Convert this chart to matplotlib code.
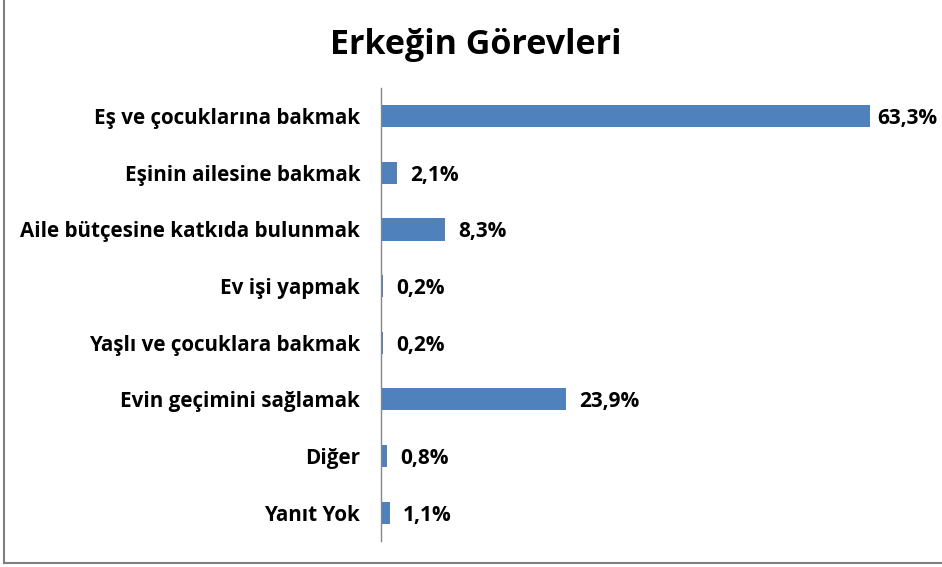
import matplotlib.pyplot as plt
from matplotlib.lines import Line2D

categories = ['Eş ve çocuklarına bakmak', 'Eşinin ailesine bakmak', 'Aile bütçesine katkıda bulunmak',
              'Ev işi yapmak', 'Yaşlı ve çocuklara bakmak', 'Evin geçimini sağlamak', 'Diğer', 'Yanıt Yok']
values = [63.3, 2.1, 8.3, 0.2, 0.2, 23.9, 0.8, 1.1]
value_labels = ['63,3%', '2,1%', '8,3%', '0,2%', '0,2%', '23,9%', '0,8%', '1,1%']

plt.rcParams['font.family'] = ['Open Sans', 'DejaVu Sans']

fig = plt.figure(figsize=(9.42, 5.67), dpi=100)
ax = fig.add_axes([0.4045, 0.046, 0.574, 0.799])

ypos = list(range(len(categories)))
ax.barh(ypos, values, height=0.39, color='#4F81BD')

for y, v, lab in zip(ypos, values, value_labels):
    # longest label is pulled in so it stays inside the chart, like Excel does
    off = 5 if v == max(values) else 9.5
    ax.annotate(lab, (v, y), xytext=(off, 0), textcoords='offset points',
                va='center_baseline', ha='left', fontsize=15, fontweight='bold')

ax.set_xlim(0, 70)
ax.set_ylim(len(categories) - 0.5, -0.5)
ax.set_yticks(ypos)
ax.set_yticklabels(categories, fontsize=14.9, fontweight='bold')
ax.tick_params(axis='y', length=0, pad=15)
ax.set_xticks([])
for s in ['top', 'right', 'bottom']:
    ax.spines[s].set_visible(False)
ax.spines['left'].set_color('#868686')
ax.spines['left'].set_linewidth(1)

fig.text(0.505, 0.92, 'Erkeğin Görevleri', ha='center', va='center', fontsize=24.5, fontweight='bold')

# outer frame
fig.add_artist(Line2D([0.004, 0.004], [0.007, 1], transform=fig.transFigure, color='#7f7f7f', lw=1.5))
fig.add_artist(Line2D([0.004, 1], [0.007, 0.007], transform=fig.transFigure, color='#7f7f7f', lw=1.5))

fig.savefig('out.png', dpi=100)
